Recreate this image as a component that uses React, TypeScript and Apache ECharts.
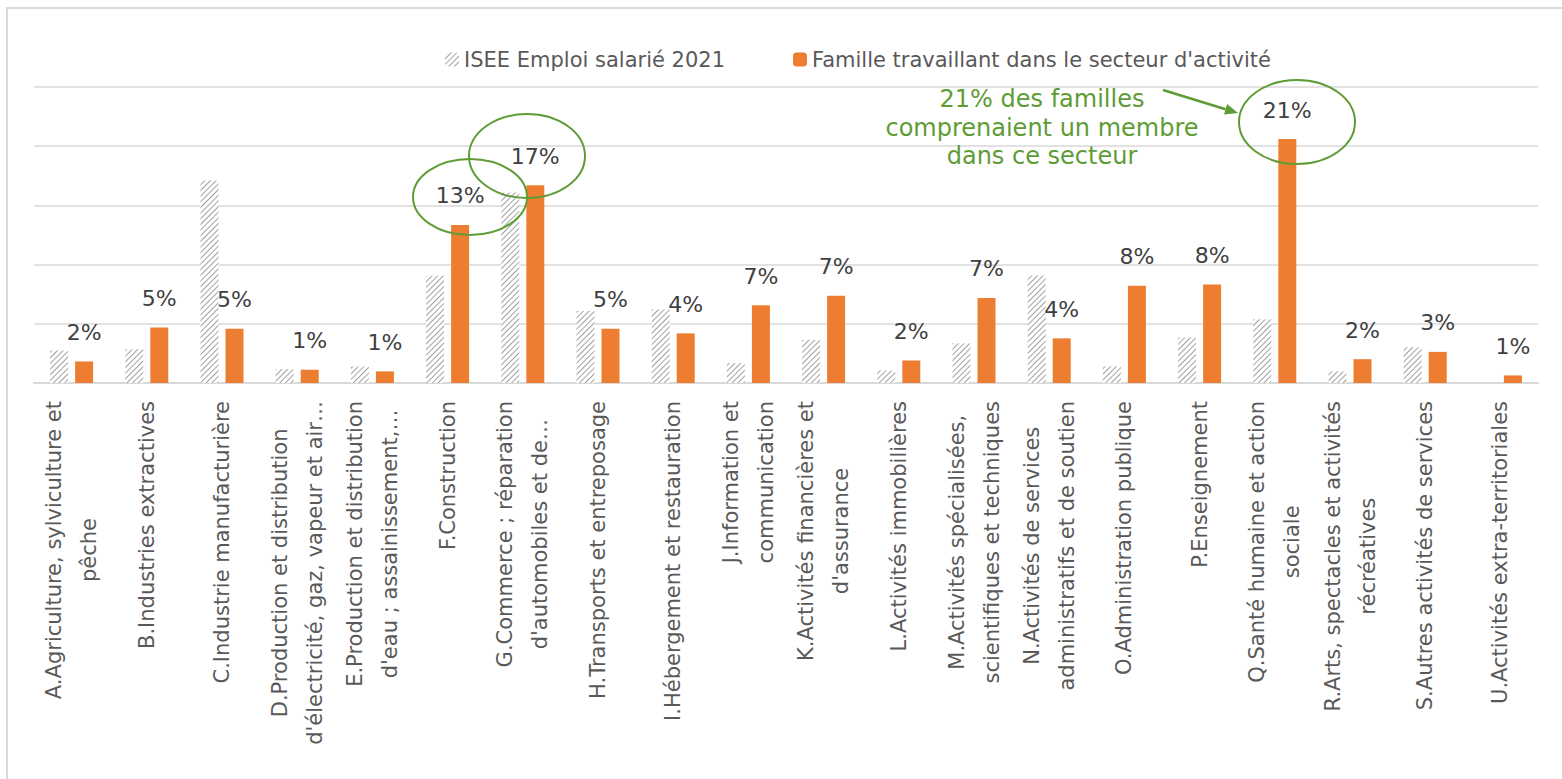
import React, { useEffect, useRef } from "react";
import * as echarts from "echarts";

const categories: string[] = [
  "A.Agriculture, sylviculture et\npêche",
  "B.Industries extractives",
  "C.Industrie manufacturière",
  "D.Production et distribution\nd'électricité, gaz, vapeur et air…",
  "E.Production et distribution\nd'eau ; assainissement,…",
  "F.Construction",
  "G.Commerce ; réparation\nd'automobiles et de…",
  "H.Transports et entreposage",
  "I.Hébergement et restauration",
  "J.Information et\ncommunication",
  "K.Activités financières et\nd'assurance",
  "L.Activités immobilières",
  "M.Activités spécialisées,\nscientifiques et techniques",
  "N.Activités de services\nadministratifs et de soutien",
  "O.Administration publique",
  "P.Enseignement",
  "Q.Santé humaine et action\nsociale",
  "R.Arts, spectacles et activités\nrécréatives",
  "S.Autres activités de services",
  "U.Activités extra-territoriales",
];

const seriesNames: string[] = [
  "ISEE Emploi salarié 2021",
  "Famille travaillant dans le secteur d'activité",
];

const iseeValues: number[] = [
  2.74, 2.85, 17.1, 1.17, 1.4, 9.05, 16.1, 6.09, 6.2, 1.68, 3.63, 1.06, 3.35,
  9.08, 1.4, 3.85, 5.39, 0.98, 3.02, 0,
];

const familleValues: number[] = [
  1.82, 4.69, 4.58, 1.12, 0.98, 13.35, 16.7, 4.58, 4.19, 6.56, 7.37, 1.9,
  7.18, 3.77, 8.21, 8.32, 20.6, 2.01, 2.63, 0.64,
];

const yTicks = { min: 0, max: 25, interval: 5 };

const annotationLines: string[] = [
  "21% des familles",
  "comprenaient un membre",
  "dans ce secteur",
];

const FONT = "'DejaVu Sans', sans-serif";
const GREEN = "#5e9c35";

export default function App() {
  const ref = useRef<HTMLDivElement>(null);

  useEffect(() => {
    document.body.style.margin = "0";
    if (!ref.current) return;
    const chart = echarts.init(ref.current, undefined, { renderer: "svg" });

    const tipX = 1238,
      tipY = 113,
      startX = 1163,
      startY = 90;
    const dx = tipX - startX,
      dy = tipY - startY;
    const len = Math.sqrt(dx * dx + dy * dy);
    const ux = dx / len,
      uy = dy / len;
    const bx = tipX - ux * 13,
      by = tipY - uy * 13;
    const px = -uy * 5.5,
      py = ux * 5.5;

    chart.setOption({
      animation: false,
      backgroundColor: "#ffffff",
      textStyle: { fontFamily: FONT },
      legend: {
        data: seriesNames,
        left: 440,
        top: 44,
        itemWidth: 14,
        itemHeight: 14,
        itemGap: 68,
        textStyle: { fontSize: 21, color: "#595959", fontFamily: FONT },
      },
      grid: { left: 34, right: 24, top: 87, bottom: 396, containLabel: false },
      xAxis: {
        type: "category",
        data: categories,
        axisTick: { show: false },
        axisLine: { lineStyle: { color: "#d9d9d9", width: 2 } },
        axisLabel: {
          interval: 0,
          rotate: 90,
          margin: 18,
          color: "#595959",
          fontSize: 21,
          fontFamily: FONT,
          lineHeight: 35,
          formatter: (v: string) =>
            v
              .split("\n")
              .map((s) => `{c|${s}}`)
              .join("\n"),
          rich: {
            c: {
              align: "center",
              fontSize: 21,
              lineHeight: 35,
              color: "#595959",
              fontFamily: FONT,
            },
          },
        },
      },
      yAxis: {
        type: "value",
        min: yTicks.min,
        max: yTicks.max,
        interval: yTicks.interval,
        axisLabel: { show: false },
        axisLine: { show: false },
        axisTick: { show: false },
        splitLine: { lineStyle: { color: "#d9d9d9", width: 1.5 } },
      },
      series: [
        {
          name: seriesNames[0],
          type: "bar",
          data: iseeValues,
          barWidth: 18,
          barGap: "39%",
          itemStyle: {
            color: "#ffffff",
            decal: {
              symbol: "rect",
              symbolSize: 1,
              dashArrayX: [1, 0],
              dashArrayY: [1, 3],
              rotation: -Math.PI / 4,
              color: "#a0a0a0",
            },
          },
        },
        {
          name: seriesNames[1],
          type: "bar",
          data: familleValues,
          barWidth: 18,
          itemStyle: { color: "#ed7d31" },
          label: {
            show: true,
            position: "top",
            distance: 18,
            fontSize: 22,
            color: "#404040",
            fontFamily: FONT,
            formatter: (p: any) => Math.round(p.value) + "%",
          },
        },
      ],
      graphic: [
        {
          type: "rect",
          shape: { x: 7, y: 8, width: 1600, height: 800 },
          style: { fill: "none", stroke: "#d9d9d9", lineWidth: 2 },
          silent: true,
          z: -1,
        },
        {
          type: "ellipse",
          shape: { cx: 470, cy: 197, rx: 57, ry: 38 },
          style: { fill: "none", stroke: GREEN, lineWidth: 2 },
          z: 100,
        },
        {
          type: "ellipse",
          shape: { cx: 527, cy: 156, rx: 58, ry: 42 },
          style: { fill: "none", stroke: GREEN, lineWidth: 2 },
          z: 100,
        },
        {
          type: "ellipse",
          shape: { cx: 1297, cy: 122, rx: 58, ry: 42 },
          style: { fill: "none", stroke: GREEN, lineWidth: 2 },
          z: 100,
        },
        ...annotationLines.map((t, i) => ({
          type: "text",
          x: 1042,
          y: 99 + i * 28.5,
          style: {
            text: t,
            fill: GREEN,
            fontSize: 24,
            fontFamily: FONT,
            textAlign: "center",
            textVerticalAlign: "middle",
          },
          z: 100,
        })),
        {
          type: "line",
          shape: { x1: startX, y1: startY, x2: bx, y2: by },
          style: { stroke: GREEN, lineWidth: 2.5 },
          z: 100,
        },
        {
          type: "polygon",
          shape: {
            points: [
              [tipX, tipY],
              [bx + px, by + py],
              [bx - px, by - py],
            ],
          },
          style: { fill: GREEN },
          z: 100,
        },
      ],
    });

    return () => chart.dispose();
  }, []);

  return (
    <div
      ref={ref}
      style={{ position: "fixed", left: 0, top: 0, width: 1562, height: 779 }}
    />
  );
}
